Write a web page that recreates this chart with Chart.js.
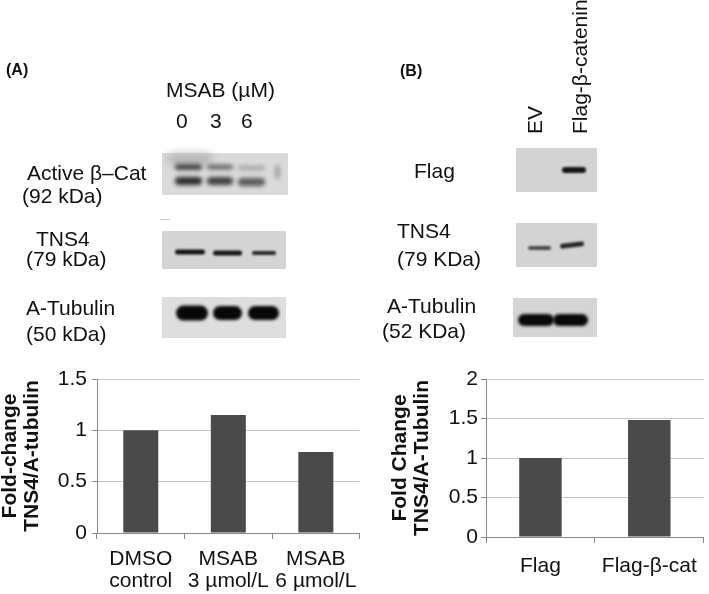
<!DOCTYPE html>
<html>
<head>
<meta charset="utf-8">
<script src="https://cdn.jsdelivr.net/npm/chart.js@4"></script>
<style>
  body { margin: 0; background: #fff; }
  #page { position: relative; width: 709px; height: 594px; overflow: hidden; font-family: "Liberation Sans", Arial, sans-serif; color: #111; }
  #blots { position: absolute; left: 0; top: 0; }
  .lbl { position: absolute; font-size: 21px; line-height: 21px; white-space: nowrap; transform: translateY(-50%); }
  .bold { font-weight: bold; font-size: 16px; }
  .up { transform: rotate(-90deg); transform-origin: 0 0; }
  .chartbox { position: absolute; top: 360px; }
</style>
</head>
<body>
<div id="page">
  <canvas id="blots" width="709" height="594"></canvas>

  <!-- panel A labels -->
  <div class="lbl bold" style="left:6px;top:69px">(A)</div>
  <div class="lbl" style="left:166px;top:89px">MSAB (µM)</div>
  <div class="lbl" style="left:176px;top:120px">0</div>
  <div class="lbl" style="left:210px;top:120px">3</div>
  <div class="lbl" style="left:241px;top:120px">6</div>
  <div class="lbl" style="left:27px;top:172px">Active β–Cat</div>
  <div class="lbl" style="left:22px;top:195px">(92 kDa)</div>
  <div class="lbl" style="left:36px;top:238px">TNS4</div>
  <div class="lbl" style="left:26px;top:258px">(79 kDa)</div>
  <div class="lbl" style="left:26px;top:307px">A-Tubulin</div>
  <div class="lbl" style="left:26px;top:333px">(50 kDa)</div>

  <!-- panel B labels -->
  <div class="lbl bold" style="left:400px;top:70px">(B)</div>
  <div class="lbl up" style="left:524px;top:134px">EV</div>
  <div class="lbl up" style="left:569px;top:134px">Flag-β-catenin</div>
  <div class="lbl" style="left:414px;top:170px">Flag</div>
  <div class="lbl" style="left:397px;top:230px">TNS4</div>
  <div class="lbl" style="left:397px;top:258px">(79 KDa)</div>
  <div class="lbl" style="left:387px;top:305px">A-Tubulin</div>
  <div class="lbl" style="left:382px;top:330px">(52 KDa)</div>

  <div class="chartbox" style="left:0px"><canvas id="chartA" width="366" height="234"></canvas></div>
  <div class="chartbox" style="left:366px"><canvas id="chartB" width="343" height="234"></canvas></div>
</div>

<script>
// ---- data ----
const msabLabels = [['DMSO', 'control'], ['MSAB', '3 µmol/L'], ['MSAB', '6 µmol/L']];
const msabValues = [1.0, 1.15, 0.79];
const msabTicks = [0, 0.5, 1, 1.5];
const msabTitle = ['Fold-change', 'TNS4/A-tubulin'];

const flagLabels = ['Flag', 'Flag-β-cat'];
const flagValues = [1.0, 1.48];
const flagTicks = [0, 0.5, 1, 1.5, 2];
const flagTitle = ['Fold Change', 'TNS4/A-Tubulin'];

Chart.defaults.font.family = '"Liberation Sans", Arial, sans-serif';
Chart.defaults.color = '#111';

// ---- western blot pictures (decoration only) ----
const bctx = document.getElementById('blots').getContext('2d');

function membrane(x, y, w, h, bg) {
    bctx.fillStyle = bg;
    bctx.fillRect(x, y, w, h);
}

function band(x1, x2, cy, h, color, blur, tilt) {
    bctx.save();
    bctx.filter = 'blur(' + blur + 'px)';
    bctx.fillStyle = color;
    bctx.translate((x1 + x2) / 2, cy);
    bctx.rotate(tilt || 0);
    bctx.beginPath();
    bctx.roundRect(-(x2 - x1) / 2, -h / 2, x2 - x1, h, h / 2);
    bctx.fill();
    bctx.restore();
}

// A: active beta-catenin
membrane(162, 153, 126, 42, '#dadada');
band(168, 212, 159, 10, '#b0b0b0', 4);
band(175, 202, 167, 6, '#444', 2.2);
band(207, 233, 167, 5, '#666', 2.2);
band(238, 265, 168, 4, '#a0a0a0', 2);
band(175, 202, 181, 8, '#2c2c2c', 2);
band(207, 233, 181, 8, '#404040', 2);
band(238, 265, 182, 8, '#5a5a5a', 2);
band(275, 280, 172, 14, '#a0a0a0', 2);
bctx.fillStyle = '#c8c8c8';
bctx.fillRect(160, 219, 10, 1);

// A: TNS4
membrane(162, 231, 124, 38, '#d4d4d4');
band(175, 205, 252, 5, '#141414', 1.3);
band(213, 242, 253, 5, '#171717', 1.3);
band(252, 276, 253, 4, '#282828', 1.3);

// A: tubulin
membrane(162, 297, 124, 41, '#dedede');
band(176, 208, 313, 15, '#080808', 1.5);
band(213, 242, 313, 14, '#080808', 1.5);
band(248, 279, 313, 14, '#080808', 1.5);

// B: Flag
membrane(516, 148, 81, 44, '#d3d3d3');
band(562, 586, 170, 6, '#151515', 1.3);

// B: TNS4
membrane(516, 223, 81, 44, '#d3d3d3');
band(528, 551, 248, 4, '#4a4a4a', 1.3);
band(560, 584, 245, 5, '#252525', 1.3, -0.12);

// B: tubulin
membrane(513, 298, 84, 39, '#d5d5d5');
band(518, 554, 320, 12, '#090909', 1.5);
band(553, 588, 320, 12, '#090909', 1.5);

// ---- bar charts ----
function makeBarChart(id, labels, values, ticks, title, geo) {
    return new Chart(document.getElementById(id), {
        type: 'bar',
        data: {
            labels: labels,
            datasets: [{
                data: values,
                backgroundColor: '#4a4a4a',
                borderWidth: 0,
                categoryPercentage: 1,
                barPercentage: geo.barPct
            }]
        },
        options: {
            responsive: false,
            animation: false,
            layout: { padding: { top: 19, right: geo.right, left: 0, bottom: 0 } },
            plugins: { legend: { display: false }, tooltip: { enabled: false } },
            scales: {
                x: {
                    grid: { drawOnChartArea: false, drawTicks: true, tickLength: 6, tickColor: '#888' },
                    border: { color: '#888' },
                    ticks: {
                        font: { size: 21, lineHeight: 1.05 },
                        color: '#111',
                        padding: geo.xPad,
                        maxRotation: 0,
                        autoSkip: false
                    },
                    afterFit: (s) => { s.height = geo.xHeight; }
                },
                y: {
                    min: ticks[0],
                    max: ticks[ticks.length - 1],
                    afterBuildTicks: (s) => { s.ticks = ticks.map(v => ({ value: v })); },
                    grid: { color: '#c6c6c6', tickLength: 5, tickColor: '#888' },
                    border: { color: '#888' },
                    ticks: { font: { size: 21 }, color: '#111', padding: geo.yPad, callback: (v) => String(v) },
                    title: {
                        display: true,
                        text: title,
                        color: '#111',
                        font: { size: 21, weight: 'bold', lineHeight: 1.05 },
                        padding: { top: geo.titlePad, bottom: 0 }
                    },
                    afterFit: (s) => { s.width = geo.yWidth; }
                }
            }
        }
    });
}

makeBarChart('chartA', msabLabels, msabValues, msabTicks, msabTitle,
    { barPct: 0.4, right: 4, xPad: 9, xHeight: 61, yPad: 5, yWidth: 97, titlePad: -1 });
makeBarChart('chartB', flagLabels, flagValues, flagTicks, flagTitle,
    { barPct: 0.39, right: 1, xPad: 12, xHeight: 57, yPad: 3, yWidth: 120, titlePad: 23 });
</script>
</body>
</html>
